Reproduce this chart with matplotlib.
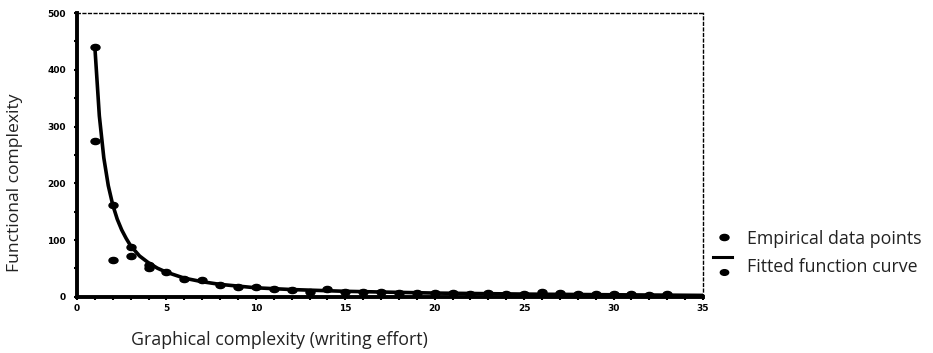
import matplotlib
matplotlib.use("Agg")
import matplotlib.pyplot as plt
from matplotlib.lines import Line2D
from matplotlib.path import Path
from matplotlib.transforms import Affine2D

# empirical measurements: graphical complexity vs functional complexity
emp_x = [1, 1, 2, 2, 3, 3, 4, 4, 5, 6, 7, 8, 9, 10, 11, 12, 13, 14, 15, 16, 17,
         18, 19, 20, 21, 22, 23, 24, 25, 26, 27, 28, 29, 30, 31, 32, 33]
emp_y = [440, 275, 162, 65, 88, 72, 50, 57, 44, 32, 30, 21, 18, 17, 14, 12, 9,
         13, 9, 9, 8, 6, 6, 6, 6, 5, 7, 5, 5, 8, 7, 5, 5, 5, 5, 4, 5]

# fitted curve, sampled densely near the steep part
fit_x = [1, 1.25, 1.5, 1.75, 2, 2.25, 2.5, 2.75, 3, 3.5, 4, 4.5, 5, 6, 7, 8,
         10, 12, 15, 20, 25, 30, 35]
fit_y = [440, 319, 245, 196, 162, 137, 118, 103, 90, 72, 60, 50.5, 43.5, 33,
         26.7, 22, 16, 12.9, 9.8, 6.7, 4.9, 3.7, 2.6]

x_ticks = [0, 5, 10, 15, 20, 25, 30, 35]
y_ticks = [0, 100, 200, 300, 400, 500]

# slightly flattened dot, like the printed markers
circ = Path.unit_circle()
blob = Path(Affine2D().scale(1.0, 0.68).transform(circ.vertices), circ.codes)

fig = plt.figure(figsize=(9.33, 3.53), dpi=100)
ax = fig.add_axes([0.0825, 0.159, 0.671, 0.804])

ax.plot(fit_x, fit_y, color="black", lw=2.6, solid_capstyle="round", zorder=2)
ax.plot(emp_x, emp_y, ls="none", marker=blob, ms=6.5, color="black", zorder=3)

ax.set_xlim(0, 35)
ax.set_ylim(0, 500)
ax.set_xticks(x_ticks)
ax.set_yticks(y_ticks)
ax.set_xticks(range(0, 36), minor=True)
ax.set_yticks(range(0, 501, 50), minor=True)

for lab in ax.get_xticklabels() + ax.get_yticklabels():
    lab.set_fontfamily("DejaVu Sans")
    lab.set_fontweight("bold")
    lab.set_fontsize(6.5)
ax.tick_params(axis="both", which="both", direction="out", length=2, width=1.5)
ax.tick_params(axis="x", pad=3)
ax.tick_params(axis="y", pad=6)

for side in ("left", "bottom"):
    ax.spines[side].set_linewidth(2.8)
for side in ("top", "right"):
    ax.spines[side].set_linewidth(1)
    ax.spines[side].set_linestyle((0, (2, 2)))

txt = dict(family="Open Sans", color="#222222")
fig.text(0.016, 0.482, "Functional complexity", rotation=90, ha="center",
         va="center", fontsize=12.6, **txt)
fig.text(0.300, 0.037, "Graphical complexity (writing effort)", ha="center",
         va="center", fontsize=12.8, **txt)

# legend drawn by hand
fig.add_artist(Line2D([0.776], [0.329], marker=blob, ms=6.5, color="black",
                      transform=fig.transFigure))
fig.add_artist(Line2D([0.764, 0.785], [0.272, 0.272], lw=2.2, color="black",
                      transform=fig.transFigure))
fig.add_artist(Line2D([0.776], [0.229], marker=blob, ms=6, color="black",
                      transform=fig.transFigure))
fig.text(0.801, 0.323, "Empirical data points", va="center", fontsize=12.8,
         **txt)
fig.text(0.801, 0.245, "Fitted function curve", va="center", fontsize=12.8,
         **txt)

fig.savefig("out.png", dpi=100)
